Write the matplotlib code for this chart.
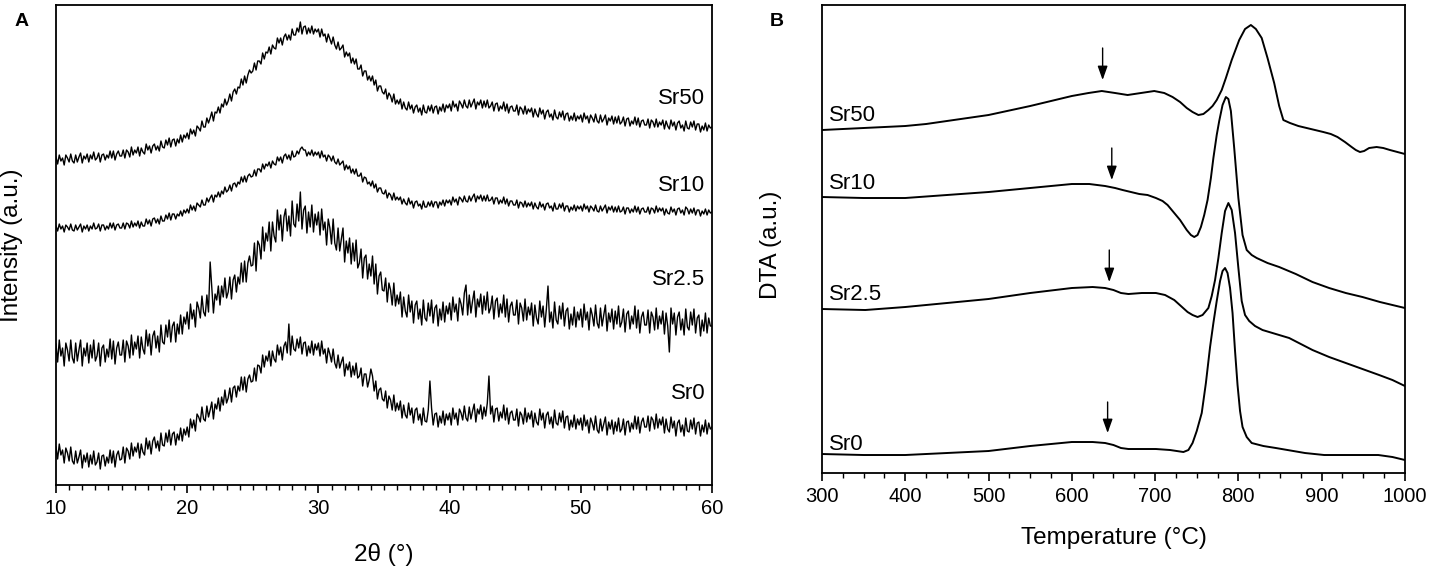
import numpy as np
import matplotlib
matplotlib.use("Agg")
import matplotlib.pyplot as plt
from matplotlib.ticker import MultipleLocator

plt.rcParams['font.family'] = ['Liberation Sans', 'DejaVu Sans']

# ---- panel A: XRD patterns, 2theta 10..60 in 0.125 deg steps ----
xrd_sr50 = [
    327, 320, 329, 323, 326, 319, 329, 326, 322, 330, 323, 321, 329, 322, 327, 331, 321, 328, 325, 330,
    322, 329, 325, 332, 324, 326, 331, 322, 329, 330, 324, 329, 326, 333, 326, 333, 324, 330, 333, 328,
    328, 334, 326, 334, 332, 327, 337, 329, 334, 331, 337, 328, 336, 332, 330, 340, 334, 338, 331, 338,
    340, 334, 338, 333, 343, 337, 336, 344, 339, 346, 337, 344, 345, 338, 345, 341, 349, 342, 349, 346,
    351, 345, 355, 350, 354, 348, 358, 356, 353, 363, 357, 357, 366, 361, 366, 372, 363, 372, 371, 377,
    371, 380, 377, 385, 379, 383, 390, 383, 392, 395, 390, 397, 396, 405, 399, 408, 401, 409, 414, 411,
    413, 421, 414, 423, 423, 420, 431, 425, 432, 431, 437, 430, 439, 436, 435, 446, 441, 446, 439, 447,
    450, 444, 449, 444, 455, 449, 449, 456, 452, 462, 450, 457, 458, 450, 456, 451, 458, 450, 455, 452,
    455, 447, 455, 448, 450, 442, 450, 445, 440, 447, 439, 435, 442, 434, 436, 439, 427, 432, 428, 431,
    421, 426, 420, 425, 415, 415, 419, 408, 413, 413, 404, 408, 403, 408, 399, 404, 393, 398, 398, 392,
    390, 395, 385, 391, 388, 382, 390, 380, 384, 380, 385, 375, 382, 376, 374, 382, 375, 379, 371, 377,
    379, 372, 376, 369, 379, 372, 371, 378, 373, 379, 371, 377, 378, 370, 377, 373, 380, 372, 379, 376,
    380, 373, 383, 377, 380, 373, 383, 380, 376, 384, 378, 376, 384, 377, 381, 385, 375, 382, 379, 384,
    376, 383, 377, 384, 376, 378, 382, 373, 380, 381, 373, 378, 375, 382, 373, 380, 371, 377, 378, 373,
    373, 379, 369, 377, 375, 370, 378, 370, 375, 372, 376, 367, 375, 370, 367, 376, 370, 374, 365, 372,
    374, 367, 370, 364, 374, 367, 365, 372, 367, 373, 364, 370, 371, 363, 368, 364, 371, 363, 368, 365,
    369, 362, 371, 365, 368, 361, 369, 366, 362, 370, 363, 361, 369, 362, 365, 369, 359, 366, 363, 368,
    360, 367, 361, 368, 360, 362, 367, 358, 365, 366, 358, 363, 360, 367, 359, 366, 357, 363, 364, 359,
    359, 365, 356, 364, 362, 357, 365, 357, 362, 359, 364, 355, 363, 358, 355, 364, 358, 362, 354, 361,
    363, 356, 359, 353, 363, 356, 355, 362, 357, 363, 354, 360, 360, 352, 358, 354, 361, 353, 359, 356,
    357]

xrd_sr10 = [
    258, 253, 260, 255, 258, 252, 259, 257, 254, 260, 254, 253, 259, 254, 257, 260, 252, 258, 255, 259,
    253, 258, 255, 261, 255, 256, 260, 253, 259, 259, 254, 258, 255, 261, 256, 261, 254, 259, 260, 256,
    256, 261, 255, 261, 260, 256, 263, 257, 261, 258, 263, 256, 262, 258, 258, 265, 260, 264, 258, 265,
    266, 261, 265, 260, 268, 263, 263, 269, 265, 271, 264, 270, 270, 265, 270, 268, 273, 268, 274, 271,
    275, 271, 279, 274, 278, 273, 281, 279, 277, 284, 279, 279, 286, 282, 286, 289, 282, 289, 287, 292,
    287, 293, 290, 297, 292, 294, 299, 293, 300, 301, 297, 302, 300, 307, 302, 308, 302, 308, 310, 307,
    308, 314, 308, 315, 315, 312, 320, 315, 320, 318, 322, 316, 323, 320, 319, 327, 323, 327, 321, 328,
    330, 325, 329, 324, 333, 327, 328, 333, 330, 335, 337, 334, 334, 328, 332, 329, 334, 328, 332, 329,
    332, 326, 333, 327, 329, 323, 329, 327, 323, 328, 322, 320, 325, 319, 321, 323, 314, 319, 315, 318,
    311, 315, 310, 315, 308, 308, 311, 302, 307, 306, 300, 302, 298, 303, 296, 300, 292, 296, 296, 291,
    290, 294, 286, 291, 289, 284, 291, 284, 287, 284, 287, 280, 285, 281, 279, 286, 280, 283, 276, 282,
    283, 278, 280, 275, 283, 277, 277, 282, 278, 283, 277, 282, 282, 276, 282, 279, 284, 278, 284, 281,
    284, 279, 287, 282, 285, 279, 287, 285, 282, 288, 283, 282, 288, 283, 287, 290, 282, 288, 285, 289,
    283, 288, 283, 289, 283, 284, 287, 280, 286, 286, 280, 284, 281, 287, 280, 285, 278, 283, 283, 279,
    279, 284, 276, 282, 281, 277, 283, 277, 281, 278, 282, 275, 281, 277, 275, 282, 277, 280, 274, 280,
    281, 276, 278, 273, 281, 275, 275, 280, 276, 281, 273, 278, 278, 272, 277, 274, 279, 273, 278, 275,
    278, 273, 280, 275, 278, 272, 278, 276, 273, 279, 273, 272, 278, 273, 276, 279, 271, 277, 274, 278,
    272, 277, 272, 278, 272, 273, 277, 270, 276, 276, 271, 275, 272, 278, 272, 277, 270, 275, 276, 272,
    272, 277, 270, 276, 275, 271, 278, 272, 276, 273, 276, 269, 275, 271, 270, 277, 272, 275, 269, 275,
    276, 271, 274, 269, 277, 275, 270, 275, 271, 276, 269, 274, 274, 268, 273, 270, 275, 269, 274, 271,
    272]

xrd_sr25 = [
    140, 122, 144, 128, 136, 118, 141, 134, 123, 144, 126, 121, 141, 123, 134, 144, 118, 136, 128, 141,
    121, 139, 126, 144, 123, 128, 141, 118, 136, 139, 122, 135, 127, 145, 125, 143, 120, 136, 142, 129,
    129, 144, 122, 143, 138, 126, 149, 129, 142, 135, 148, 126, 147, 135, 130, 154, 138, 150, 129, 148,
    153, 136, 148, 132, 159, 142, 140, 159, 147, 164, 142, 158, 162, 142, 160, 150, 169, 150, 167, 160,
    172, 155, 180, 165, 174, 157, 182, 176, 166, 188, 172, 168, 189, 172, 222, 196, 171, 190, 184, 198,
    179, 198, 187, 206, 186, 192, 207, 185, 204, 209, 192, 207, 200, 221, 202, 223, 202, 221, 228, 218,
    219, 241, 213, 243, 239, 225, 257, 233, 251, 243, 262, 233, 262, 248, 242, 274, 254, 269, 243, 267,
    275, 253, 268, 248, 283, 260, 257, 280, 263, 292, 255, 274, 278, 251, 272, 257, 279, 252, 270, 259,
    272, 249, 275, 254, 262, 239, 265, 256, 240, 265, 241, 234, 256, 233, 245, 256, 222, 243, 231, 246,
    220, 241, 223, 244, 216, 221, 235, 206, 226, 229, 205, 220, 208, 228, 200, 220, 190, 208, 212, 194,
    193, 206, 182, 201, 194, 179, 201, 178, 189, 180, 192, 167, 187, 173, 167, 189, 172, 183, 161, 179,
    183, 165, 175, 159, 184, 166, 163, 181, 168, 184, 161, 176, 179, 158, 175, 164, 182, 162, 178, 170,
    181, 164, 187, 172, 180, 163, 186, 180, 169, 191, 199, 169, 189, 171, 183, 193, 167, 185, 177, 190,
    170, 188, 174, 192, 171, 176, 188, 165, 183, 186, 167, 180, 171, 189, 167, 185, 162, 178, 182, 169,
    169, 184, 160, 181, 176, 163, 185, 164, 177, 169, 181, 158, 179, 166, 160, 183, 167, 178, 157, 175,
    198, 162, 172, 156, 182, 164, 160, 178, 165, 181, 158, 173, 176, 155, 170, 159, 177, 157, 172, 164,
    175, 157, 180, 164, 172, 154, 176, 169, 158, 179, 161, 156, 176, 158, 169, 179, 153, 171, 162, 175,
    155, 173, 160, 178, 157, 162, 175, 152, 170, 173, 155, 168, 160, 178, 156, 174, 151, 167, 172, 159,
    159, 174, 151, 172, 167, 154, 176, 155, 168, 160, 173, 150, 171, 158, 132, 176, 160, 171, 149, 167,
    172, 154, 165, 149, 175, 157, 154, 172, 159, 175, 151, 166, 169, 148, 164, 153, 171, 151, 166, 158,
    158]

xrd_sr0 = [
    37, 25, 40, 29, 34, 21, 36, 31, 23, 37, 23, 20, 33, 21, 27, 34, 16, 29, 22, 31,
    17, 29, 20, 33, 19, 22, 31, 15, 28, 29, 18, 27, 21, 34, 21, 33, 17, 29, 33, 24,
    25, 37, 21, 36, 33, 25, 41, 28, 37, 32, 41, 26, 40, 32, 29, 46, 35, 43, 30, 43,
    47, 36, 43, 33, 51, 39, 38, 51, 42, 54, 39, 50, 52, 39, 50, 44, 56, 43, 55, 49,
    57, 47, 65, 56, 64, 53, 70, 67, 62, 77, 65, 63, 78, 67, 74, 82, 65, 80, 75, 86,
    73, 87, 79, 94, 81, 86, 96, 82, 96, 98, 87, 98, 93, 107, 94, 107, 92, 105, 109, 102,
    103, 116, 103, 119, 118, 111, 129, 117, 128, 123, 133, 118, 133, 125, 122, 139, 129, 137, 124, 138,
    142, 131, 160, 129, 148, 135, 133, 145, 136, 147, 130, 141, 142, 128, 138, 131, 143, 129, 140, 134,
    141, 128, 143, 130, 135, 121, 136, 130, 122, 135, 121, 116, 129, 116, 122, 127, 108, 120, 114, 122,
    107, 118, 109, 121, 106, 108, 116, 98, 110, 110, 97, 104, 115, 108, 93, 103, 85, 94, 96, 85,
    83, 93, 76, 88, 84, 74, 89, 73, 81, 74, 83, 66, 79, 69, 66, 81, 69, 76, 61, 74,
    76, 64, 70, 59, 76, 63, 62, 74, 103, 76, 59, 70, 71, 57, 68, 61, 73, 59, 70, 64,
    71, 59, 76, 65, 71, 59, 75, 71, 64, 78, 66, 63, 77, 65, 73, 80, 62, 75, 70, 79,
    65, 77, 68, 81, 108, 70, 78, 62, 75, 76, 63, 72, 66, 79, 64, 76, 60, 71, 73, 64,
    64, 75, 58, 72, 69, 60, 76, 62, 71, 65, 73, 57, 71, 62, 59, 75, 64, 71, 56, 69,
    72, 60, 67, 56, 74, 61, 59, 71, 62, 73, 56, 67, 68, 54, 64, 57, 69, 55, 65, 59,
    66, 54, 69, 58, 64, 51, 66, 61, 54, 68, 54, 51, 65, 53, 60, 67, 49, 62, 55, 64,
    50, 62, 53, 66, 52, 55, 65, 49, 62, 63, 52, 61, 55, 68, 55, 67, 51, 62, 66, 57,
    57, 68, 53, 67, 64, 55, 70, 56, 65, 59, 67, 51, 65, 55, 52, 67, 56, 63, 48, 61,
    64, 52, 59, 48, 66, 53, 52, 64, 55, 66, 50, 61, 62, 48, 59, 52, 64, 50, 61, 55,
    57]

xrd_names = ['Sr50', 'Sr10', 'Sr2.5', 'Sr0']
xrd_label_y = [386, 299, 205, 91]

# ---- panel B: DTA curves ----
t_sr50 = [300, 325, 350, 375, 400, 425, 450, 475, 500, 550, 600, 620, 636, 652, 667, 683, 699, 711, 721,
          730, 738, 745, 752, 758, 764, 769, 774, 780, 785, 792, 801, 808, 815, 821, 828, 835, 843, 849,
          854, 862, 872, 887, 902, 911, 919, 928, 936, 941, 946, 951, 957, 966, 974, 982, 991, 1000]
dta_sr50 = [343, 344, 345, 346, 347, 349, 352, 355, 358, 367, 377, 380, 382, 380, 378, 380, 382, 380, 376,
            371, 365, 361, 358, 359, 363, 367, 373, 383, 395, 413, 433, 444, 448, 444, 435, 415, 390, 367,
            353, 350, 347, 344, 341, 339, 336, 331, 326, 323, 321, 322, 325, 326, 325, 323, 321, 319]

t_sr10 = [300, 350, 400, 450, 500, 550, 600, 621, 640, 652, 661, 671, 681, 691, 701, 709, 715, 722, 730,
          738, 743, 747, 751, 755, 759, 763, 767, 770, 774, 777, 781, 785, 788, 791, 795, 800, 805, 810,
          816, 822, 835, 849, 869, 889, 909, 929, 949, 970, 985, 1000]
dta_sr10 = [276, 275, 275, 278, 281, 285, 289, 289, 287, 285, 283, 281, 279, 278, 275, 272, 268, 261, 253,
            243, 238, 236, 238, 246, 258, 273, 295, 315, 338, 352, 368, 376, 374, 362, 325, 275, 238, 223,
            218, 215, 210, 206, 199, 191, 185, 180, 176, 171, 168, 165]

t_sr25 = [300, 352, 400, 450, 500, 550, 600, 625, 640, 650, 659, 668, 684, 701, 712, 723, 731, 739, 745,
          751, 757, 764, 768, 772, 776, 780, 784, 788, 792, 796, 800, 804, 808, 813, 820, 829, 845, 861,
          875, 889, 909, 929, 949, 969, 985, 1000]
dta_sr25 = [164, 163, 166, 170, 174, 180, 185, 186, 185, 183, 180, 179, 180, 180, 178, 173, 167, 161, 158,
            156, 158, 165, 177, 193, 215, 240, 262, 270, 263, 240, 205, 172, 158, 152, 147, 143, 139, 135,
            129, 123, 116, 110, 104, 98, 93, 87]

t_sr0 = [300, 350, 400, 450, 500, 550, 600, 625, 640, 650, 659, 668, 684, 701, 718, 734, 740, 745, 750,
         756, 761, 766, 770, 774, 778, 781, 784, 787, 790, 793, 796, 799, 802, 805, 810, 816, 830, 845,
         859, 880, 903, 930, 968, 985, 1000]
dta_sr0 = [19, 18, 18, 20, 22, 27, 31, 31, 30, 28, 25, 24, 24, 24, 23, 21, 23, 30, 42,
           60, 90, 126, 150, 172, 192, 202, 205, 200, 185, 160, 122, 88, 62, 46, 36, 30, 27, 25,
           23, 20, 18, 18, 18, 16, 13]

dta_names = ['Sr50', 'Sr10', 'Sr2.5', 'Sr0']
dta_label_y = [358, 290, 179, 29]
# arrows: temperature, tail, head
arrow_t = [637, 648, 645, 643]
arrow_top = [425, 325, 223, 71]
arrow_tip = [393, 293, 191, 40]

fig = plt.figure(figsize=(14.32, 5.69), dpi=100)
ax1 = fig.add_axes([0.0391, 0.1476, 0.4581, 0.8436])
ax2 = fig.add_axes([0.5740, 0.1687, 0.4071, 0.8225])

# panel A
for ys in [xrd_sr50, xrd_sr10, xrd_sr25, xrd_sr0]:
    ax1.plot(np.linspace(10, 60, len(ys)), ys, color='black', lw=1.0)
for name, ly in zip(xrd_names, xrd_label_y):
    ax1.text(59.5, ly, name, ha='right', va='center', fontsize=16)
ax1.set_xlim(10, 60)
ax1.set_ylim(-1, 479)
ax1.xaxis.set_major_locator(MultipleLocator(10))
ax1.xaxis.set_minor_locator(MultipleLocator(1))
ax1.set_yticks([])
ax1.set_xlabel('2θ (°)', fontsize=17.5)
ax1.set_ylabel('Intensity (a.u.)', fontsize=17.5)
ax1.xaxis.set_label_coords(0.5, -0.121)
ax1.yaxis.set_label_coords(-0.050, 0.5)

# panel B
for ts, ys in [(t_sr50, dta_sr50), (t_sr10, dta_sr10), (t_sr25, dta_sr25), (t_sr0, dta_sr0)]:
    ax2.plot(ts, ys, color='black', lw=1.4)
for name, ly in zip(dta_names, dta_label_y):
    ax2.text(308, ly, name, ha='left', va='center', fontsize=16)
for t, y0, y1 in zip(arrow_t, arrow_top, arrow_tip):
    ax2.annotate('', xy=(t, y1), xytext=(t, y0),
                 arrowprops=dict(arrowstyle='-|>,head_length=0.7,head_width=0.25',
                                 color='black', lw=1, mutation_scale=12,
                                 shrinkA=0, shrinkB=0))
ax2.set_xlim(300, 1000)
ax2.set_ylim(0, 468)
ax2.xaxis.set_major_locator(MultipleLocator(100))
ax2.xaxis.set_minor_locator(MultipleLocator(25))
ax2.set_yticks([])
ax2.set_xlabel('Temperature (°C)', fontsize=17.5)
ax2.set_ylabel('DTA (a.u.)', fontsize=17.5)
ax2.xaxis.set_label_coords(0.5, -0.115)
ax2.yaxis.set_label_coords(-0.069, 0.487)

for ax in (ax1, ax2):
    for sp in ax.spines.values():
        sp.set_linewidth(1.3)
    ax.tick_params(axis='x', which='major', direction='out', length=6, width=1.2,
                   labelsize=14.5, pad=4)
    ax.tick_params(axis='x', which='minor', direction='out', length=3.5, width=1.0)

fig.text(22 / 1432, 1 - 22 / 569, 'A', fontsize=14, fontweight='bold', ha='center', va='center')
fig.text(777 / 1432, 1 - 21 / 569, 'B', fontsize=14, fontweight='bold', ha='center', va='center')

fig.savefig('out.png', dpi=100)
